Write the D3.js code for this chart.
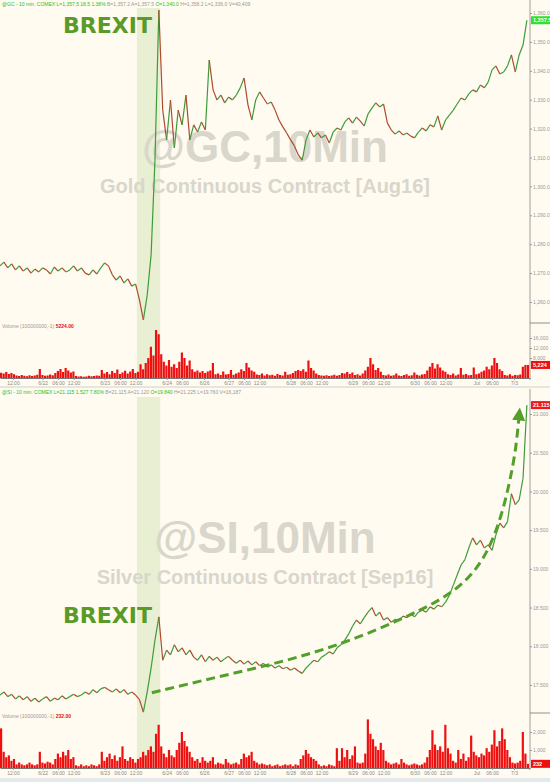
<!DOCTYPE html>
<html>
<head>
<meta charset="utf-8">
<script src="https://cdn.jsdelivr.net/npm/d3@7"></script>
<style>
  body { margin: 0; background: #fffbf0; }
  svg { display: block; font-family: "Liberation Sans", Arial, sans-serif; }
</style>
</head>
<body>
<div id="chart"></div>
<script>
// x unit = trading hours from the left edge (weekend gaps removed)
var priceStep = 1.5;   // hours between price samples
var volStep = 1;       // hours between volume bars

var tickHours  = [5, 16.5, 22.5, 28.5, 40.5, 46.5, 52.5, 64.5, 70.5, 79, 88.5, 94.5, 100.5,
                  112.5, 118.5, 124.5, 136.5, 142.5, 148.5, 160.5, 166.5, 172.5, 184.5, 190.5, 199];
var tickLabels = ["12:00", "6/22", "06:00", "12:00", "6/23", "06:00", "12:00", "6/24", "06:00", "6/26", "6/27", "06:00", "12:00",
                  "6/28", "06:00", "12:00", "6/29", "06:00", "12:00", "6/30", "06:00", "12:00", "Jul", "06:00", "7/3"];
var brexitHours = [53, 62];

var goldPrice = [
  1272.5,1273.8,1271.8,1273.2,1271.1,1272.5,1270.7,1271.8,1270.0,1271.4,
  1270.4,1271.8,1271.1,1269.7,1272.1,1270.7,1271.8,1270.4,1271.1,1272.5,
  1270.7,1271.8,1270.0,1269.4,1271.1,1269.7,1271.8,1273.5,1272.5,1269.4,
  1267.6,1269.0,1266.6,1268.0,1265.5,1266.2,1260.7,1253.8,1262.4,1276.3,
  1309.1,1361.0,1326.4,1316.1,1329.9,1313.3,1326.4,1321.3,1331.6,1316.1,
  1321.3,1318.8,1322.3,1319.5,1343.7,1333.4,1329.9,1331.6,1328.9,1330.9,
  1329.9,1331.6,1334.1,1337.5,1328.2,1323.0,1329.9,1332.7,1330.6,1328.5,
  1329.2,1326.4,1323.0,1320.6,1318.5,1316.1,1314.0,1310.9,1309.1,1316.1,
  1319.5,1317.1,1318.5,1316.8,1317.8,1315.0,1318.8,1320.2,1319.5,1322.3,
  1323.7,1321.9,1324.0,1322.6,1320.9,1325.1,1327.1,1328.9,1327.5,1328.5,
  1321.9,1319.5,1318.1,1319.2,1317.8,1318.5,1317.4,1316.8,1318.8,1320.2,
  1319.2,1321.3,1320.6,1324.4,1319.5,1323.0,1324.7,1326.4,1328.5,1330.6,
  1329.9,1332.0,1333.4,1332.7,1335.1,1334.1,1336.1,1340.3,1341.7,1338.9,
  1339.6,1341.7,1345.5,1339.6,1345.5,1348.9,1357.5];

var silverPrice = [
  17.37,17.41,17.35,17.38,17.32,17.36,17.31,17.35,17.29,17.33,
  17.28,17.32,17.35,17.29,17.33,17.31,17.36,17.32,17.35,17.38,
  17.35,17.37,17.41,17.38,17.44,17.40,17.45,17.47,17.44,17.41,
  17.45,17.40,17.44,17.38,17.41,17.37,17.31,17.15,17.41,17.72,
  18.08,18.38,17.82,17.95,17.89,18.02,17.93,17.98,17.89,17.95,
  17.86,17.82,17.89,17.80,17.87,17.82,17.86,17.80,17.84,17.87,
  17.82,17.78,17.82,17.77,17.81,17.76,17.80,17.75,17.78,17.73,
  17.76,17.72,17.75,17.71,17.73,17.69,17.72,17.68,17.65,17.72,
  17.77,17.82,17.80,17.86,17.89,17.93,17.90,17.98,18.02,18.08,
  18.16,18.26,18.34,18.29,18.37,18.44,18.50,18.39,18.44,18.34,
  18.37,18.31,18.35,18.33,18.39,18.37,18.42,18.38,18.44,18.47,
  18.44,18.51,18.48,18.53,18.51,18.57,18.66,18.79,18.92,19.05,
  19.12,19.27,19.40,19.31,19.37,19.27,19.31,19.24,19.44,19.59,
  19.53,19.61,19.97,19.83,19.89,20.17,21.115];

// volume in thousands of contracts, one bar per hour
var goldVolume = [
  2.1,1.8,2.4,1.6,2.0,1.5, 1.0,0.8,1.2,0.9,0.7,1.1,0.8,1.0,1.3, 3.6, 1.2,0.9,1.0,1.4,1.1,
  2.0,2.8,3.6,2.4,4.0,3.0,2.2,2.6, 0.8,0.6,0.7,0.5,0.6,0.9,0.7,0.8,1.0,0.9, 3.2,
  1.8,2.4,1.5,2.8,2.0,3.4,1.6,2.2,2.9,1.8,2.6,3.6,2.0,2.5, 5.5,3.5,6.0,
  8.0,12.5,9.0,19.2,17.5,9.5, 6.5,5.0,7.2,4.5,5.5, 4.0,6.5,10.2,8.0,5.0,7.0,3.5,
  2.5,3.0,2.2,2.8,2.0,2.6, 3.0,6.0, 1.5,1.8,1.2,2.6,1.4,1.6,3.2,1.3,1.8,2.2,
  3.5,2.8,6.0,4.2,3.0,2.5, 1.4,1.2,1.8,1.0,1.5,1.1,1.3,0.9,1.6,1.2,1.0,2.5,
  1.3,1.5,2.0,2.8,3.2, 2.8,3.5,2.5,7.0,4.0,3.0, 1.8,1.2,1.0,0.9,1.1,0.8,1.0,1.3,0.9,1.2,
  2.0,1.8,2.4,1.6,2.2, 1.2,1.5,1.0,1.8, 3.0,4.5,8.0,5.5,3.2,4.0,2.5,
  1.2,1.0,1.4,0.9,1.1,1.8,1.0,0.8,1.2,1.5,0.9,1.1,2.2,1.3,1.0,1.4,1.6,
  3.0,4.5,6.0,3.8,5.5,4.2,3.0,2.5, 1.5,1.2,1.8,1.0,1.4,4.0,1.3,1.6,1.1,1.2,4.2,1.5,1.8,
  2.5,3.0,4.5,3.5,5.0,8.0,6.0,3.5,2.8, 1.2,1.0,1.5,0.9,1.2,1.1,1.4, 4.5,5.2,5.224];

var silverVolume = [
  2.2,0.9,0.6,0.7,0.4,0.5, 0.2,0.3,0.2,0.15,0.2,0.3,0.2,0.15,0.2, 0.9, 0.3,0.25,0.35,0.3,0.2,
  0.5,0.8,0.6,0.9,0.7,1.0,0.5,0.6, 0.15,0.1,0.2,0.1,0.15,0.1,0.2,0.15,0.1,0.2, 0.9,
  0.4,0.6,0.8,0.5,0.7,0.4,0.6,1.2,0.5,0.4,0.6,0.5,0.3,0.5, 0.6,0.9,0.7,
  1.0,1.2,0.9,1.9,2.4,1.2, 0.8,0.6,1.0,0.7,0.6, 1.0,1.4,2.0,1.5,1.2,0.9,0.6,
  0.4,0.5,0.3,0.6,0.4,0.3, 0.4,0.6, 0.2,0.3,0.25,0.2,0.5,0.3,0.2,0.25,0.3,0.2,
  0.5,0.8,0.6,0.7,0.9,0.4, 0.3,0.2,0.25,0.2,0.15,0.2,0.1,0.15,0.2,0.1,0.15,0.2,
  0.15,0.2,0.1,0.2,0.15, 0.5,0.7,1.0,0.8,0.6,0.5, 0.4,0.2,0.1,0.15,0.1,0.2,0.15,0.1,1.1,0.4,
  1.1,0.6,1.0,0.5,0.7, 1.2,0.3,0.25,0.3, 0.8,2.7,1.9,1.6,1.2,1.0,1.4,
  1.0,0.4,0.3,0.2,0.25,0.3,0.2,0.5,0.3,0.2,0.15,0.2,0.25,0.2,0.15,0.2,0.3,
  0.6,1.0,2.1,1.3,1.0,1.2,0.9,2.4, 1.1,0.8,0.4,0.3,1.0,0.5,0.8,0.4,0.6,1.8,0.9,0.7,0.6,
  0.8,0.7,1.1,0.9,1.3,2.1,1.2,1.5,2.2, 1.6,1.0,0.6,0.3,0.25,0.3,0.4, 2.0,0.8,0.232];

var goldTicks = [1260, 1270, 1280, 1290, 1300, 1310, 1320, 1330, 1340, 1350, 1360];
var silverTicks = [17.5, 18, 18.5, 19, 19.5, 20, 20.5, 21];
var goldVolTicks = [8000, 12000, 16000];
var silverVolTicks = [1000, 2000];

// trend arrow drawn on the silver chart (hours, price)
var arrowHours  = [58.8, 77.4, 96.8, 116.1, 135.5, 154.9, 170.3, 180.0, 187.8, 193.6, 197.4, 199.8, 200.9];
var arrowPrices = [17.40, 17.55, 17.70, 17.86, 18.07, 18.34, 18.59, 18.82, 19.14, 19.61, 20.12, 20.56, 20.95];

var W = 550, H = 782, axisX = 530;
var x = d3.scaleLinear().domain([0, 205.2]).range([0, axisX]);

var svg = d3.select("#chart").append("svg").attr("width", W).attr("height", H);
svg.append("rect").attr("width", W).attr("height", H).attr("fill", "#fffbf0");

var defs = svg.append("defs");
defs.append("marker").attr("id", "arrowhead")
  .attr("viewBox", "0 0 10 10").attr("refX", 2).attr("refY", 5)
  .attr("markerUnits", "userSpaceOnUse").attr("markerWidth", 13).attr("markerHeight", 15)
  .attr("orient", "auto")
  .append("path").attr("d", "M0,0 L10,5 L0,10 Z").attr("fill", "#52a02a");

function drawPanel(p) {
  var g = svg.append("g");
  var y = d3.scaleLinear().domain(p.priceDomain).range(p.priceRange);
  var vy = d3.scaleLinear().domain(p.volDomain).range(p.volRange);
  var base = p.volRange[0];
  var barW = x(volStep) - x(0);

  defs.append("clipPath").attr("id", p.id + "-clip")
    .append("rect").attr("x", 0).attr("y", p.top).attr("width", axisX).attr("height", p.divider - p.top);

  // brexit shading
  g.append("rect")
    .attr("x", x(brexitHours[0])).attr("width", x(brexitHours[1]) - x(brexitHours[0]))
    .attr("y", p.top).attr("height", base - p.top)
    .attr("fill", "#e8efd2");

  // watermark
  g.append("text").attr("x", 265).attr("y", p.markY).attr("text-anchor", "middle")
    .attr("font-size", 44).attr("font-weight", "bold").attr("fill", "#d9d6cb")
    .text(p.mark);
  g.append("text").attr("x", 265).attr("y", p.markY + 31).attr("text-anchor", "middle")
    .attr("font-size", 20).attr("font-weight", "bold").attr("fill", "#d9d6cb")
    .text(p.subtitle);

  // header line
  var hdr = g.append("text").attr("x", 2).attr("y", p.headerY).attr("font-size", 5);
  p.header.forEach(function(h) {
    hdr.append("tspan").attr("fill", h[1]).text(h[0] + " ");
  });

  // volume bars
  g.append("g").selectAll("rect").data(p.volume).enter().append("rect")
    .attr("x", function(d, i) { return x(i * volStep); })
    .attr("width", barW - 0.4)
    .attr("y", function(d) { return vy(d * 1000); })
    .attr("height", function(d) { return base - vy(d * 1000); })
    .attr("fill", "#ee1010");

  var vl = g.append("text").attr("x", 2).attr("y", p.volLabelY).attr("font-size", 5).attr("fill", "#999");
  vl.append("tspan").text("Volume (100000000,-1)  ");
  vl.append("tspan").attr("fill", "#e01010").attr("font-weight", "bold").text(p.volLabel);

  // price path, coloured by direction
  var pts = p.price.map(function(v, i) { return [x(i * priceStep), y(v)]; });
  var segs = d3.pairs(pts);
  g.append("g").attr("clip-path", "url(#" + p.id + "-clip)")
    .selectAll("line").data(segs).enter().append("line")
    .attr("x1", function(d) { return d[0][0]; }).attr("y1", function(d) { return d[0][1]; })
    .attr("x2", function(d) { return d[1][0]; }).attr("y2", function(d) { return d[1][1]; })
    .attr("stroke", function(d) { return d[1][1] <= d[0][1] ? "#3f9c3a" : "#b04a2e"; })
    .attr("stroke-width", 1.2);

  // x axis
  var xa = g.append("g").attr("transform", "translate(0," + base + ")")
    .call(d3.axisBottom(x).tickValues(tickHours)
      .tickFormat(function(d, i) { return tickLabels[i]; })
      .tickSize(2).tickSizeOuter(0).tickPadding(1));
  xa.attr("font-size", 5).attr("font-family", null);
  xa.select(".domain").attr("stroke", "#777");
  xa.selectAll(".tick line").attr("stroke", "#999");
  xa.selectAll("text").attr("fill", "#8a8a8a");

  // right axis line and dividers
  g.append("line").attr("x1", axisX).attr("x2", axisX).attr("y1", p.axisTop).attr("y2", base + 2)
    .attr("stroke", "#888").attr("stroke-width", 0.8);
  g.append("line").attr("x1", axisX).attr("x2", W).attr("y1", p.divider).attr("y2", p.divider)
    .attr("stroke", "#777").attr("stroke-width", 0.8);

  var ya = g.append("g").attr("transform", "translate(" + axisX + ",0)")
    .call(d3.axisRight(y).tickValues(p.priceTicks).tickFormat(p.fmt).tickSize(2).tickPadding(1));
  var va = g.append("g").attr("transform", "translate(" + axisX + ",0)")
    .call(d3.axisRight(vy).tickValues(p.volTicks).tickFormat(d3.format(",")).tickSize(2).tickPadding(1));
  [ya, va].forEach(function(a) {
    a.attr("font-size", 5).attr("font-family", null);
    a.select(".domain").remove();
    a.selectAll(".tick line").attr("stroke", "#999");
    a.selectAll("text").attr("fill", "#999");
  });

  // last value boxes
  var last = p.price[p.price.length - 1];
  g.append("rect").attr("x", axisX + 1).attr("y", y(last) - 4).attr("width", W - axisX - 1).attr("height", 8)
    .attr("fill", p.lastColor);
  g.append("text").attr("x", axisX + 3).attr("y", y(last) + 2).attr("font-size", 5.5)
    .attr("font-weight", "bold").attr("fill", "#fff").text(p.fmtLast(last));
  var lastV = p.volume[p.volume.length - 1] * 1000;
  g.append("rect").attr("x", axisX + 1).attr("y", vy(lastV) - 4).attr("width", W - axisX - 1).attr("height", 8)
    .attr("fill", "#ee1010");
  g.append("text").attr("x", axisX + 3).attr("y", vy(lastV) + 2).attr("font-size", 5.5)
    .attr("font-weight", "bold").attr("fill", "#fff").text(d3.format(",")(Math.round(lastV)));

  // BREXIT label
  g.append("text").attr("x", 63).attr("y", p.brexitY)
    .attr("font-family", "DejaVu Sans").attr("font-weight", "bold").attr("font-size", 22)
    .attr("fill", "#5a9a26").text("BREXIT");

  return { y: y, g: g };
}

drawPanel({
  id: "gold", top: 8, axisTop: 0, divider: 323, headerY: 6, volLabelY: 328,
  priceDomain: [1260, 1360], priceRange: [302, 13],
  volDomain: [0, 16000], volRange: [378, 338],
  price: goldPrice, volume: goldVolume, priceTicks: goldTicks, volTicks: goldVolTicks,
  fmt: d3.format(",.1f"), fmtLast: d3.format(",.1f"), lastColor: "#2fe02f",
  mark: "@GC,10Min", subtitle: "Gold Continuous Contract [Aug16]", markY: 162,
  volLabel: "5224.00", brexitY: 33,
  header: [["@GC - 10 min. COMEX  L=1,357.5  18.5  1.38%", "#1fc01f"], ["B=1,357.2  A=1,357.5", "#999"],
           ["O=1,340.0", "#1fc01f"], ["H=1,358.2  L=1,336.0  V=40,409", "#999"]]
});

var silver = drawPanel({
  id: "silver", top: 397, axisTop: 389, divider: 713, headerY: 394, volLabelY: 718,
  priceDomain: [17.5, 21], priceRange: [685, 414],
  volDomain: [0, 2000], volRange: [768, 732],
  price: silverPrice, volume: silverVolume, priceTicks: silverTicks, volTicks: silverVolTicks,
  fmt: d3.format(".3f"), fmtLast: d3.format(".3f"), lastColor: "#ee1a1a",
  mark: "@SI,10Min", subtitle: "Silver Continuous Contract [Sep16]", markY: 553,
  volLabel: "232.00", brexitY: 623,
  header: [["@SI - 10 min. COMEX  L=21.115  1.527  7.80%", "#1fc01f"], ["B=21.115  A=21.120", "#999"],
           ["O=19.840", "#1fc01f"], ["H=21.225  L=19.760  V=16,187", "#999"]]
});

// dashed trend arrow
var arrowLine = d3.line()
  .x(function(d, i) { return x(arrowHours[i]); })
  .y(function(d) { return silver.y(d); })
  .curve(d3.curveBasis);
silver.g.append("path").datum(arrowPrices)
  .attr("d", arrowLine)
  .attr("fill", "none").attr("stroke", "#52a02a").attr("stroke-width", 3)
  .attr("stroke-dasharray", "9,5").attr("marker-end", "url(#arrowhead)");

// panel separator and bottom strip
svg.append("rect").attr("x", 0).attr("y", 386).attr("width", W).attr("height", 2).attr("fill", "#e6e6de");
svg.append("rect").attr("x", 0).attr("y", 778).attr("width", W).attr("height", 4).attr("fill", "#e4eaea");
</script>
</body>
</html>
